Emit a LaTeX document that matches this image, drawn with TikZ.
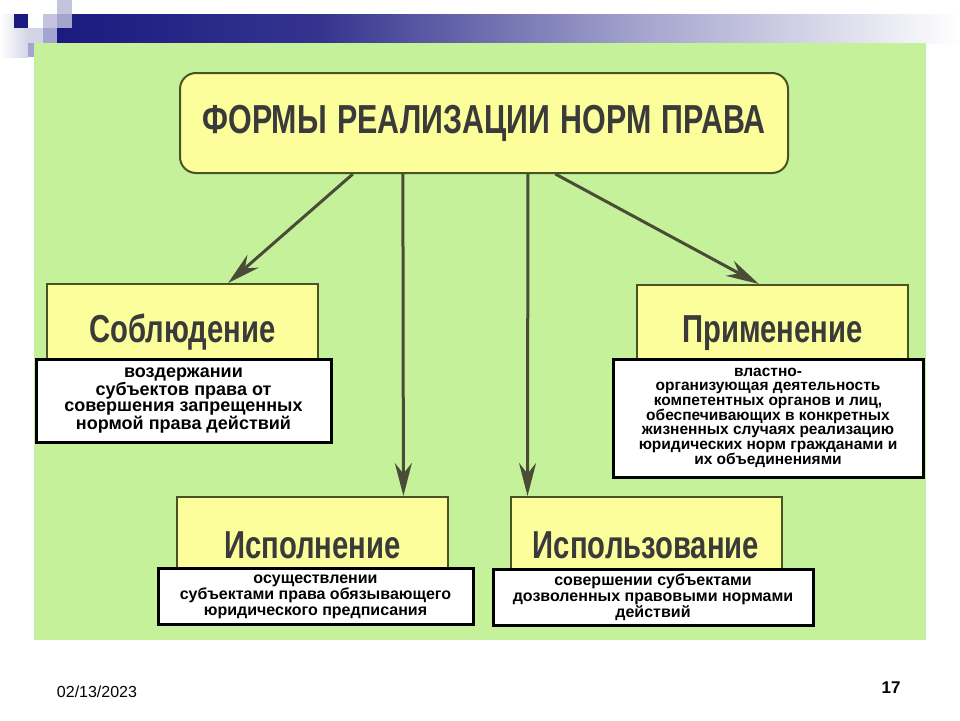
\documentclass[tikz,border=0pt]{standalone}
\usepackage{fontspec}
\setmainfont{Liberation Sans}
\newfontfamily\narrowfont[FakeStretch=0.75]{Liberation Sans}
\usetikzlibrary{arrows.meta,calc}
\definecolor{Slide}{HTML}{C4F19A}
\definecolor{Lemon}{HTML}{FCFE9C}
\definecolor{Olive}{HTML}{4B5223}
\definecolor{ArrowInk}{HTML}{4A4C38}
\definecolor{Label}{HTML}{3A3A3A}
\definecolor{Navy}{HTML}{1A1A80}
\definecolor{NavyMid}{HTML}{34348F}
\definecolor{Lilac}{HTML}{A4A4CE}
\definecolor{LilacSoft}{HTML}{D4D4E8}
\definecolor{LilacPale}{HTML}{C4C4DE}
\tikzset{
  titlebox/.style={draw=Olive,line width=2pt,fill=Lemon,rounded corners=16pt,minimum width=608pt,minimum height=100pt,inner sep=0pt,text=Label,font=\narrowfont\bfseries\fontsize{40.5}{40.5}\selectfont},
  formbox/.style={draw=Olive,line width=2pt,fill=Lemon,minimum width=271pt,minimum height=96pt,inner sep=0pt,text=Label,font=\narrowfont\bfseries\fontsize{39}{39}\selectfont},
  defbox/.style={draw=black,line width=3pt,fill=white,inner sep=0pt,align=center,text=black,font=\bfseries\fontsize{16}{16}\selectfont},
  arrow/.style={-{Stealth[length=33pt,width=17pt]},line width=3pt,draw=ArrowInk}
}

\begin{document}
\begin{tikzpicture}[x=1pt,y=-1pt]
  \useasboundingbox (0,0) rectangle (960,720);
  % slide template
  \fill[white] (0,0) rectangle (960,720);
  \shade[left color=white,right color=LilacSoft] (0,14) rectangle (28,57);
  \shade[left color=Navy,right color=NavyMid] (57,14) rectangle (320,43);
  \shade[left color=NavyMid,right color=Lilac] (320,14) rectangle (640,43);
  \shade[left color=Lilac,right color=white] (640,14) rectangle (960,43);
  \fill[Navy] (14,14) rectangle (28,28);
  \fill[white] (28,14) rectangle (43,28);
  \fill[LilacPale] (43,14) rectangle (57,28);
  \fill[LilacPale] (57,0) rectangle (72,14);
  \fill[Lilac] (57,14) rectangle (72,28);
  \fill[LilacSoft] (28,28) rectangle (43,43);
  \fill[Lilac] (43,28) rectangle (57,43);
  \fill[Lilac] (28,43) rectangle (34,57);
  \fill[Slide] (34,43) rectangle (926,640);
  % title
  \node[titlebox] (title) at (484,123) {ФОРМЫ\hspace{2pt} РЕАЛИЗАЦИИ\hspace{2pt} НОРМ\hspace{2pt} ПРАВА};
  % forms
  \node[formbox] (sob) at (182.5,332) {Соблюдение};
  \node[formbox] (prim) at (772.5,333) {Применение};
  \node[formbox] (isp) at (312.5,545) {Исполнение};
  \node[formbox] (ispz) at (646,545) {Использование};
  % definitions
  \node[defbox,minimum width=295pt,minimum height=83pt,font=\bfseries\fontsize{18}{16.5}\selectfont] (sobdef) at (183.5,400.5)
    {воздержании\\субъектов права от\\совершения запрещенных\\нормой права действий};
  \node[defbox,minimum width=310pt,minimum height=118pt,font=\bfseries\fontsize{15.5}{14.3}\selectfont] (primdef) at (768,418)
    {властно-\\организующая деятельность\\компетентных органов и лиц,\\обеспечивающих в конкретных\\жизненных случаях реализацию\\юридических норм гражданами и\\их объединениями};
  \node[defbox,minimum width=315pt,minimum height=56pt] (ispdef) at (315.5,596.5)
    {осуществлении\\субъектами права обязывающего\\юридического предписания};
  \node[defbox,minimum width=320pt,minimum height=56pt] (ispzdef) at (653,597)
    {совершении субъектами\\дозволенных правовыми нормами\\действий};
  % arrows
  \draw[arrow] ($(title.south west)!.285!(title.south east)$) -- ($(sob.north west)!.667!(sob.north east)$);
  \draw[arrow] ($(title.south west)!.367!(title.south east)$) -- ($(isp.north west)!.833!(isp.north east)$);
  \draw[arrow] ($(title.south west)!.572!(title.south east)$) -- ($(ispz.north west)!.066!(ispz.north east)$);
  \draw[arrow] ($(title.south west)!.617!(title.south east)$) -- ($(prim.north west)!.45!(prim.north east)$);
  % footer
  \node[font=\fontsize{16}{16}\selectfont] (date) at (97,692) {02/13/2023};
  \node[font=\bfseries\fontsize{17}{17}\selectfont] (page) at (891,688) {17};
\end{tikzpicture}
\end{document}
